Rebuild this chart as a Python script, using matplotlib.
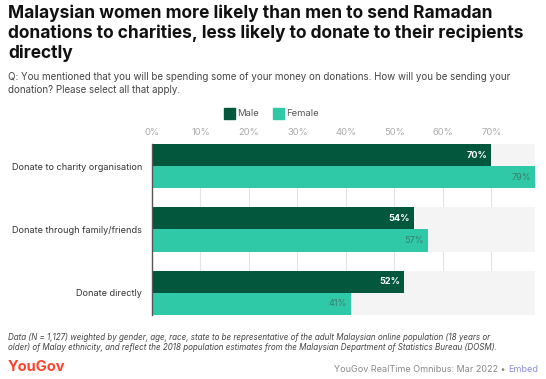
import numpy as np
import matplotlib.pyplot as plt
from matplotlib.patches import Rectangle

categories = ["Donate to charity organisation", "Donate through family/friends", "Donate directly"]
male = [70, 54, 52]
female = [79, 57, 41]
ticks = [0, 10, 20, 30, 40, 50, 60, 70]
tick_labels = [f"{t}%" for t in ticks]

MALE_C = "#02573d"
FEMALE_C = "#30c9a8"
W, H = 546, 379

fig = plt.figure(figsize=(W / 100, H / 100), dpi=100)
plt.rcParams['font.family'] = ['Inter', 'DejaVu Sans']


def px(x, y):
    return x / W, 1 - y / H


# title + question
title = ("Malaysian women more likely than men to send Ramadan\n"
         "donations to charities, less likely to donate to their recipients\n"
         "directly")
fig.text(*px(8, 5), title, ha="left", va="top", fontsize=12.5, fontweight="bold",
         color="#111111", linespacing=1.16)
fig.text(*px(8, 72), "Q: You mentioned that you will be spending some of your money on donations. How will you be sending your\n"
         "donation? Please select all that apply.", ha="left", va="top", fontsize=7.0,
         color="#444444", linespacing=1.4)

# legend
for x0, lab, c in [(224, "Male", MALE_C), (273, "Female", FEMALE_C)]:
    fig.patches.append(Rectangle(px(x0, 119), 11 / W, 11 / H, transform=fig.transFigure,
                                 color=c, figure=fig))
    fig.text(*px(x0 + 13, 113.5), lab, ha="left", va="center", fontsize=6.8, color="#555555")

# axes
l, r, t, b = 152, 535, 144, 315
ax = fig.add_axes([l / W, 1 - b / H, (r - l) / W, (b - t) / H])
h = 0.35
y = np.arange(len(categories))
ax.set_xlim(0, max(female))
ax.set_ylim(y[-1] + h, -h)

for yi in y:
    ax.axhspan(yi - h, yi + h, color="#f4f4f4", zorder=1, lw=0)
for tk in ticks[1:]:
    ax.axvline(tk, color="#e3e3e3", lw=0.8, zorder=0.5)

ax.barh(y - h / 2, male, height=h, color=MALE_C, zorder=2)
ax.barh(y + h / 2, female, height=h, color=FEMALE_C, zorder=2)

for yi, v in zip(y, male):
    ax.annotate(f"{v}%", (v, yi - h / 2), xytext=(-3, 0), textcoords="offset points",
                ha="right", va="center", fontsize=6.6, fontweight="bold", color="white", zorder=3)
for yi, v in zip(y, female):
    ax.annotate(f"{v}%", (v, yi + h / 2), xytext=(-3, 0), textcoords="offset points",
                ha="right", va="center", fontsize=6.6, color="#3b7d6b", zorder=3)

ax.set_xticks(ticks)
ax.set_xticklabels(tick_labels)
ax.xaxis.tick_top()
ax.tick_params(axis="x", length=0, pad=5, labelsize=6.8, labelcolor="#aaaaaa")
ax.set_yticks(y)
ax.set_yticklabels(categories)
ax.tick_params(axis="y", length=0, pad=7, labelsize=6.55, labelcolor="#333333")
for s in ["top", "right", "bottom"]:
    ax.spines[s].set_visible(False)
ax.spines["left"].set_color("#555555")
ax.spines["left"].set_linewidth(1)
ax.spines["left"].set_zorder(4)

# footnote
fig.text(*px(8, 333), "Data (N = 1,127) weighted by gender, age, race, state to be representative of the adult Malaysian online population (18 years or\n"
         "older) of Malay ethnicity, and reflect the 2018 population estimates from the Malaysian Department of Statistics Bureau (DOSM).",
         ha="left", va="top", fontsize=5.78, style="italic", color="#444444", linespacing=1.2)

fig.text(*px(8, 367), "YouGov", ha="left", va="center", fontsize=10.5, color="#ff412c", fontweight="bold")
emb = fig.text(*px(538, 369), "Embed", ha="right", va="center", fontsize=6.5, color="#8b8be0")
fig.canvas.draw()
bb = emb.get_window_extent()
fig.text(bb.x0 / W, 1 - 369 / H, "YouGov RealTime Omnibus: Mar 2022 \u2022 ", ha="right", va="center",
         fontsize=6.5, color="#888888")

fig.savefig("out.png", dpi=100)
